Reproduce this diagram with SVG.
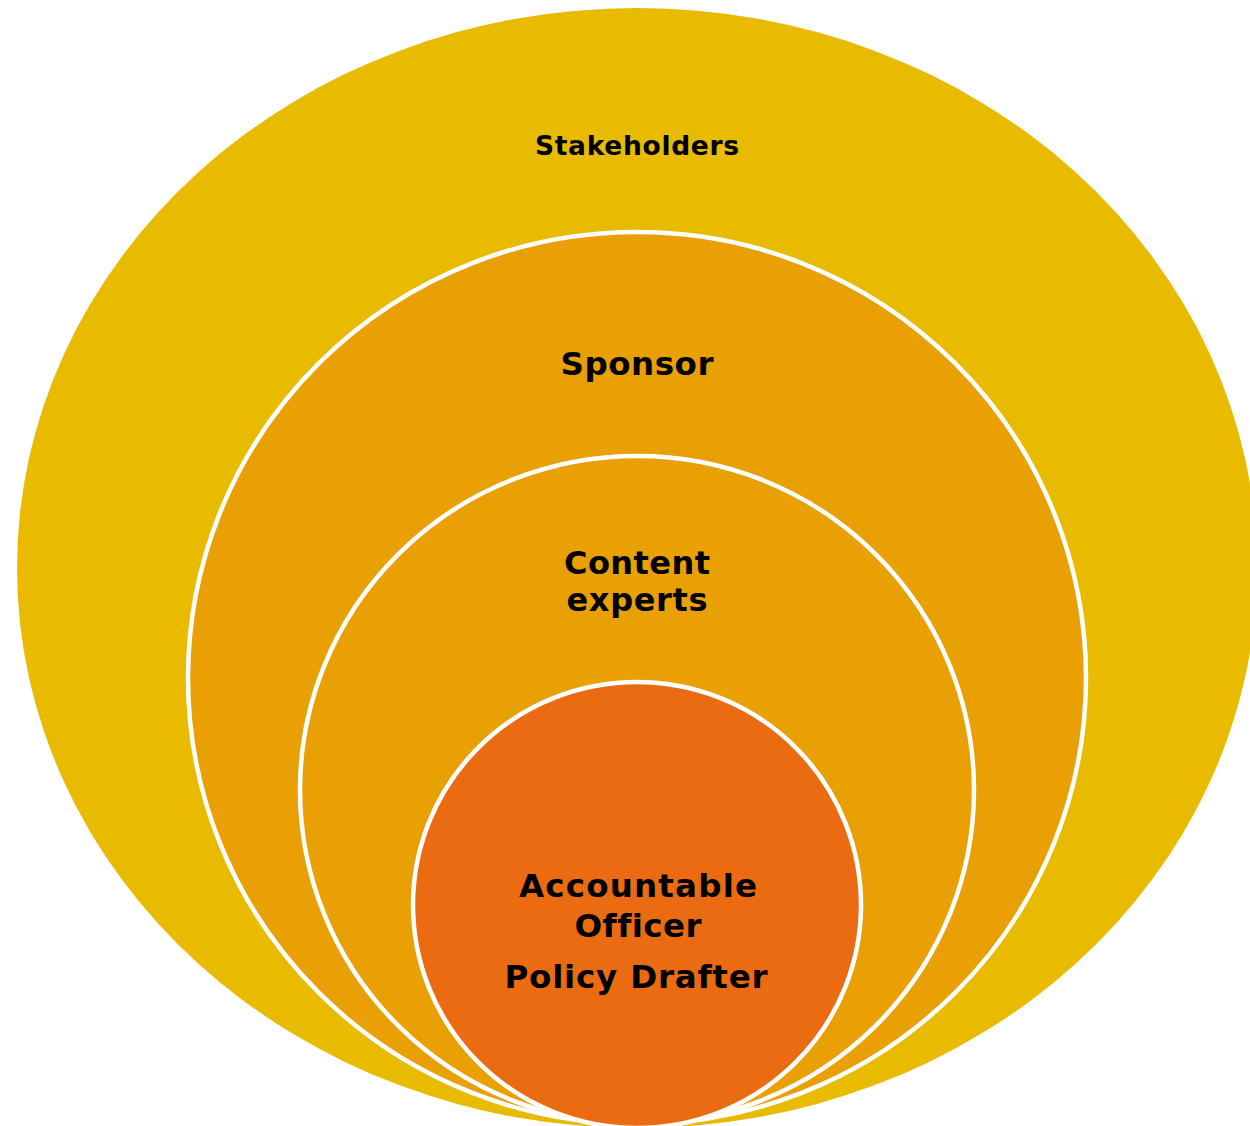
<svg xmlns="http://www.w3.org/2000/svg" width="1250" height="1126" viewBox="0 0 1250 1126">
<style>
.ring{stroke:#FFFFFF;stroke-width:4.5}
.lbl{font-family:"DejaVu Sans","Verdana",sans-serif;font-weight:bold;fill:#000000;text-anchor:middle;font-variant-ligatures:none}
</style>
<rect x="0" y="0" width="1250" height="1126" fill="#FFFFFF"/>
<g id="stakeholders">
<ellipse cx="637" cy="568" rx="620" ry="560" fill="#E8BA00"/>
<text class="lbl" x="637" y="155" font-size="26.5" textLength="204" lengthAdjust="spacing">Stakeholders</text>
</g>
<g id="sponsor">
<ellipse class="ring" cx="637" cy="678" rx="449" ry="446" fill="#E8A005"/>
<text class="lbl" x="637" y="375" font-size="32.5" textLength="153" lengthAdjust="spacing">Sponsor</text>
</g>
<g id="content-experts">
<ellipse class="ring" cx="637" cy="790" rx="337" ry="334" fill="#E8A005"/>
<text class="lbl" x="637" y="574" font-size="32" textLength="146" lengthAdjust="spacing">Content</text>
<text class="lbl" x="637" y="611" font-size="32" textLength="141" lengthAdjust="spacing">experts</text>
</g>
<g id="accountable-officer">
<ellipse class="ring" cx="637" cy="905" rx="224" ry="223" fill="#EA6B12"/>
<text class="lbl" x="638" y="897" font-size="32.5" textLength="238" lengthAdjust="spacing">Accountable</text>
<text class="lbl" x="638" y="937" font-size="32.5" textLength="127" lengthAdjust="spacing">Officer</text>
<text class="lbl" x="636" y="988" font-size="32.5" textLength="263" lengthAdjust="spacing">Policy Drafter</text>
</g>
<g id="connectors"></g>
</svg>
